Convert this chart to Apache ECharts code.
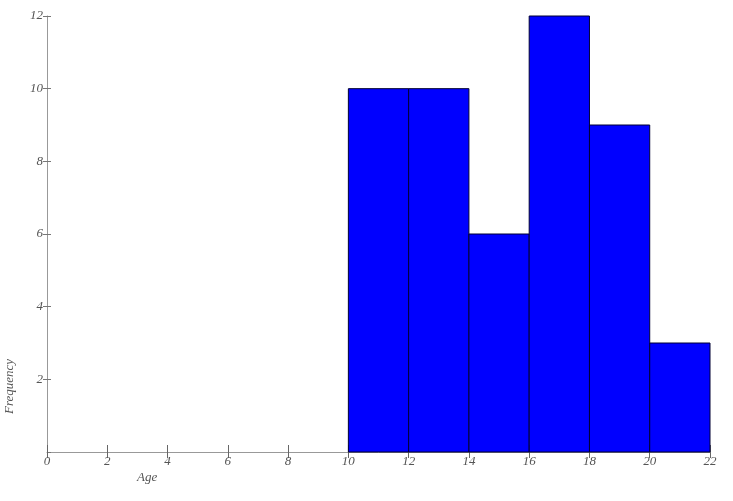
<!DOCTYPE html>
<html><head><meta charset="utf-8">
<script src="https://cdn.jsdelivr.net/npm/echarts@6/dist/echarts.min.js"></script>
<style>html,body{margin:0;padding:0;background:#fff}#c{width:733px;height:501px}</style>
</head><body><div id="c"></div>
<script>
const binStarts = [10, 12, 14, 16, 18, 20];
const binEnds = [12, 14, 16, 18, 20, 22];
const frequencies = [10, 10, 6, 12, 9, 3];
const xTicks = [0, 2, 4, 6, 8, 10, 12, 14, 16, 18, 20, 22];
const yTicks = [2, 4, 6, 8, 10, 12];

const chart = echarts.init(document.getElementById('c'));
const labelFont = {fontFamily: 'Liberation Serif', fontStyle: 'italic', fontSize: 13, color: '#555'};
const data = binStarts.map((s, i) => [s, binEnds[i], frequencies[i]]);
chart.setOption({
  animation: false,
  grid: {left: 47, right: 23, top: 16, bottom: 49},
  xAxis: [{
    type: 'value', min: 0, max: 22, interval: 2,
    axisLine: {show: true, lineStyle: {color: '#999', width: 1}},
    axisTick: {show: true, length: 6, lineStyle: {color: '#666'}},
    axisLabel: Object.assign({margin: 3, formatter: v => xTicks.includes(v) ? String(v) : ''}, labelFont),
    splitLine: {show: false}
  }, {
    type: 'value', min: 0, max: 22, interval: 2, position: 'bottom',
    axisLine: {show: false},
    axisTick: {show: true, inside: true, length: 7, lineStyle: {color: '#666'}},
    axisLabel: {show: false},
    splitLine: {show: false}
  }],
  yAxis: [{
    type: 'value', min: 0, max: 12, interval: 2,
    axisLine: {show: true, lineStyle: {color: '#999', width: 1}},
    axisTick: {show: true, length: 4, lineStyle: {color: '#777'}},
    axisLabel: Object.assign({margin: 4, showMinLabel: false,
      formatter: v => yTicks.includes(v) ? String(v) : ''}, labelFont),
    splitLine: {show: false}
  }, {
    type: 'value', min: 0, max: 12, interval: 2, position: 'left',
    axisLine: {show: false},
    axisTick: {show: true, inside: true, length: 4, lineStyle: {color: '#777'}},
    axisLabel: {show: false},
    splitLine: {show: false}
  }],
  graphic: [
    {type: 'text', left: 137, top: 471, style: {text: 'Age', font: 'italic 13px "Liberation Serif"', fill: '#555'}},
    {type: 'text', x: 3, y: 414, rotation: Math.PI / 2, style: {text: 'Frequency', font: 'italic 13px "Liberation Serif"', fill: '#555'}, originX: 0, originY: 0}
  ],
  series: [{
    type: 'custom',
    xAxisIndex: 0, yAxisIndex: 0,
    data: data,
    renderItem: function (params, api) {
      const p0 = api.coord([api.value(0), 0]);
      const p1 = api.coord([api.value(1), api.value(2)]);
      return {
        type: 'rect',
        shape: {x: p0[0], y: p1[1], width: p1[0] - p0[0], height: p0[1] - p1[1]},
        style: {fill: '#0000ff', stroke: '#000033', lineWidth: 1}
      };
    }
  }]
});
</script></body></html>
